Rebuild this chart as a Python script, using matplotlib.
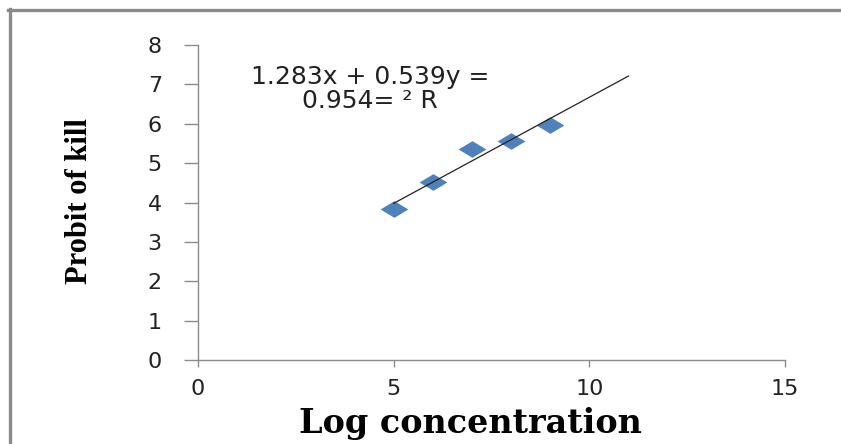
import numpy as np
import matplotlib
matplotlib.use("Agg")
import matplotlib.pyplot as plt
from matplotlib.path import Path
from matplotlib.lines import Line2D

# ---------------------------------------------------------------------------
# Data
# ---------------------------------------------------------------------------
log_conc = [5, 6, 7, 8, 9]
probit_kill = [3.83, 4.53, 5.36, 5.57, 5.98]

slope = 0.539
intercept = 1.283
r_squared = 0.954
trend_x = [5, 11]

x_ticks = [0, 5, 10, 15]
y_ticks = [0, 1, 2, 3, 4, 5, 6, 7, 8]

# ---------------------------------------------------------------------------
# Plot
# ---------------------------------------------------------------------------
fig = plt.figure(figsize=(8.41, 4.44), dpi=100)
ax = fig.add_axes([0.2354, 0.1892, 0.698, 0.7094])

# flattened diamond, as in the source image
diamond = Path([(-1, 0), (0, 0.6), (1, 0), (0, -0.6), (-1, 0)],
               [Path.MOVETO, Path.LINETO, Path.LINETO, Path.LINETO, Path.CLOSEPOLY])

tx = np.array(trend_x, dtype=float)
ax.plot(tx, slope * tx + intercept, color="#222222", linewidth=0.9, zorder=3)
ax.plot(log_conc, probit_kill, linestyle="none", marker=diamond,
        markersize=20, color="#4F81BD", markeredgewidth=0, zorder=2)

ax.set_xlim(0, 15)
ax.set_ylim(0, 8)
ax.set_xticks(x_ticks)
ax.set_yticks(y_ticks)

for side in ("top", "right"):
    ax.spines[side].set_visible(False)
for side in ("left", "bottom"):
    ax.spines[side].set_color("#8c8c8c")
    ax.spines[side].set_linewidth(1.0)
ax.tick_params(direction="out", width=1.0, color="#8c8c8c",
               labelsize=16, labelcolor="#222222")
ax.tick_params(axis="y", length=10, pad=16)
ax.tick_params(axis="x", length=5, pad=9)
for lab in ax.get_xticklabels() + ax.get_yticklabels():
    lab.set_family("DejaVu Sans")

ax.text(4.4, 6.88, f"{intercept}x + {slope}y =\n{r_squared}= \u00b2 R",
        ha="center", va="center", fontsize=18, family="DejaVu Sans",
        color="#222222", linespacing=1.0)

fig.text(0.559, 0.047, "Log concentration", ha="center", va="center",
         fontsize=24, fontweight="bold", family="DejaVu Serif")
fig.text(0.095, 0.547, "Probit of kill", ha="center", va="center",
         rotation=90, fontsize=22, fontweight="bold", family="Liberation Serif")

# grey frame on the left and top edges
fig.add_artist(Line2D([0.0113, 0.0113], [0.0, 0.979], transform=fig.transFigure,
                      color="#8a8a8a", linewidth=2.4))
fig.add_artist(Line2D([0.009, 1.0], [0.977, 0.977], transform=fig.transFigure,
                      color="#8a8a8a", linewidth=2.4))

fig.savefig("out.png", dpi=100)
